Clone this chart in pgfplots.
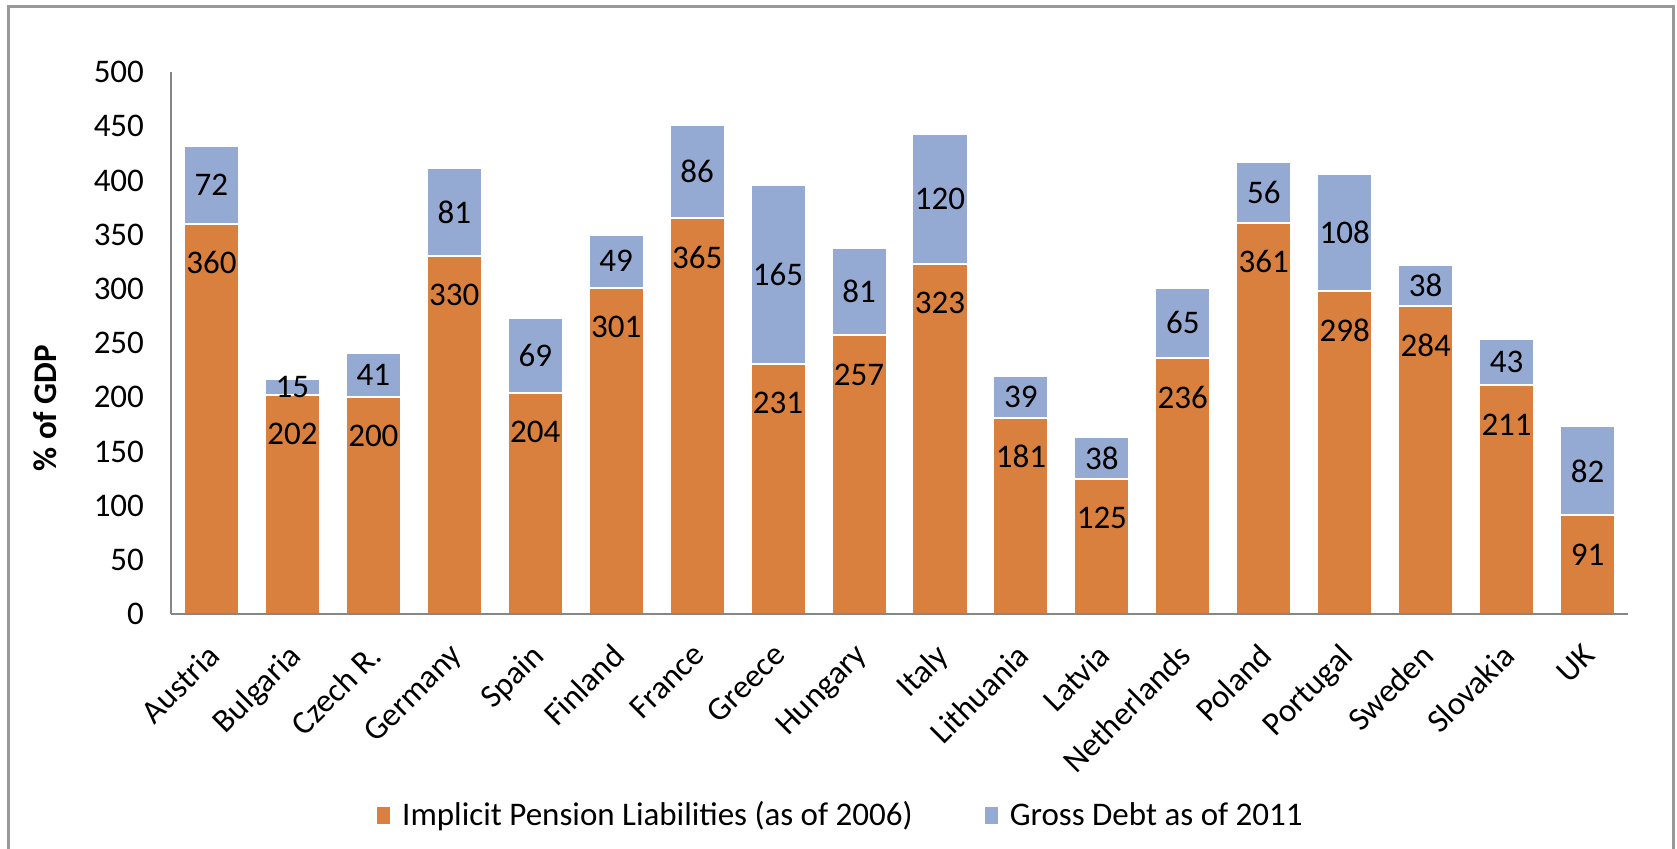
\documentclass[border=0pt]{standalone}
\usepackage{fontspec}
\setmainfont{Carlito}
\usepackage{pgfplots}
\pgfplotsset{compat=1.18}
\usepackage{pgfplotstable}
\definecolor{ipl}{RGB}{217,128,62}
\definecolor{gd}{RGB}{149,170,211}
\definecolor{axgray}{RGB}{134,134,134}

\pgfplotstableread{
x a b
0 360 72
1 202 15
2 200 41
3 330 81
4 204 69
5 301 49
6 365 86
7 231 165
8 257 81
9 323 120
10 181 39
11 125 38
12 236 65
13 361 56
14 298 108
15 284 38
16 211 43
17 91 82
}\data

\pgfplotsset{geom/.style={
  at={(85.5pt,117pt)}, anchor=south west,
  width=728.5pt, height=271pt, scale only axis,
  ymin=0, ymax=500, xmin=-0.5, xmax=17.5}}

\begin{document}
\begin{tikzpicture}[font=\fontsize{16.5}{19}\selectfont]
\path[use as bounding box] (0,0) rectangle (838.5pt,424pt);
\draw[black!40, line width=1.5pt] (4pt,-10pt) -- (4pt,420.5pt) -- (836.5pt,420.5pt) -- (836.5pt,-10pt);
\node[rotate=90, font=\fontsize{16.5}{19}\selectfont\bfseries] at (22.5pt,220pt) {\% of GDP};
\begin{axis}[
  geom,
  ybar stacked, bar width=0.68,
  axis on top,
  axis x line*=bottom, axis y line*=left,
  axis line style={draw=axgray, line width=1pt, -},
  ytick={0,50,...,500},
  xtick={0,...,17},
  xticklabels={Austria,Bulgaria,Czech R.,Germany,Spain,Finland,France,Greece,Hungary,Italy,Lithuania,Latvia,Netherlands,Poland,Portugal,Sweden,Slovakia,UK},
  major tick length=0pt,
  /pgf/number format/assume math mode=true,
  yticklabel style={anchor=east, xshift=-10pt},
  xticklabel style={xshift=-3pt, yshift=-9pt, rotate=45, anchor=north east},
  legend style={at={(0.4605,-0.371)}, anchor=center, draw=none, fill=none, legend columns=2,
    /tikz/every even column/.append style={column sep=34pt},
    font=\fontsize{16.5}{19}\selectfont},
  legend image code/.code={\path[#1, draw=none] (0pt,-4.5pt) rectangle (6.5pt,4pt); \path (10pt,0pt);},
]
\addplot[fill=ipl, draw=white, line width=1pt] table[x=x, y=a] {\data};
\addplot[fill=gd, draw=white, line width=1pt] table[x=x, y=b] {\data};
\legend{Implicit Pension Liabilities (as of 2006), Gross Debt as of 2011}
\end{axis}
\begin{axis}[
  geom, hide axis,
  nodes near coords, point meta=explicit symbolic,
  every node near coord/.append style={anchor=center, black, font=\fontsize{16.5}{19}\selectfont},
]
\addplot[draw=none, mark=none] table[x=x, y expr=\thisrow{a}-36, meta=a] {\data};
\addplot[draw=none, mark=none] table[x=x, y expr=\thisrow{a}+\thisrow{b}/2, meta=b] {\data};
\end{axis}
\end{tikzpicture}
\end{document}
